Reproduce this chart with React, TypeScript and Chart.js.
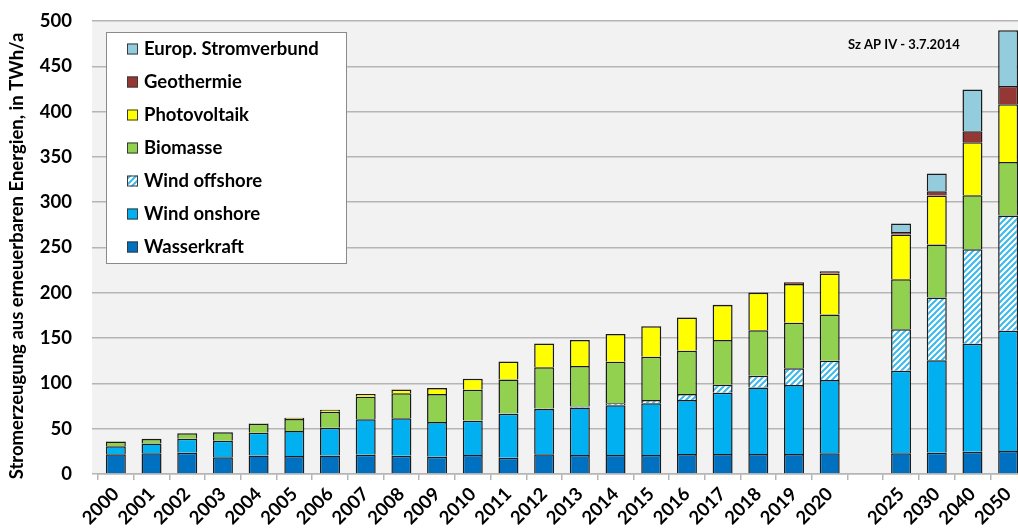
import React, { useEffect, useRef } from 'react';
import { Chart, registerables } from 'chart.js';
Chart.register(...registerables);

const categories = ['2000','2001','2002','2003','2004','2005','2006','2007','2008','2009','2010','2011','2012','2013','2014','2015','2016','2017','2018','2019','2020','','2025','2030','2040','2050'];
const wasserkraft = [21.7,22.8,23.5,18.4,20.5,19.9,20.3,21.3,20.2,19.1,21,18,21.7,21,21,21,22,22,22,22,22.8,null,22.8,23.5,24.5,25.5];
const windOnshore = [8.8,11,15.5,18.3,25.1,27.5,30.7,39,41.2,38.3,37.8,48.5,50,52.5,54.8,57,59.6,67.7,73.6,76.2,80.9,null,91.2,102,119.2,132.5];
const windOffshore = [0,0,0,0,0,0,0,0,0,0,0.2,0.6,0.7,0.9,2.2,3.6,6.6,8.8,12.8,18.4,21.3,null,45.9,69.4,104.5,127.4];
const biomasse = [5.5,4.8,6,9.3,9.9,13.3,17.8,25,27.6,30.8,34,37.2,45.3,44.7,45.9,47.8,47.8,49.3,50.4,50.3,51.1,null,55.1,58.4,59.5,59.1];
const photovoltaik = [0.1,0.2,0.3,0.3,0.6,1.3,2.2,3.1,4.4,6.6,12,20,26.4,28.7,30.5,33.8,36.8,38.6,41.2,42.7,45.2,null,49.3,54.1,58.5,63.6];
const geothermie = [0,0,0,0,0,0,0,0,0,0,0,0,0,0,0.1,0.1,0.2,0.3,0.5,2,2.6,null,2.9,4.7,12.1,20.2];
const europStromverbund = [0,0,0,0,0,0,0,0,0,0,0,0,0,0,0,0,0,0,0,0,0,null,9.3,19.5,46,61.4];

const seriesLabels = ['Wasserkraft','Wind onshore','Wind offshore','Biomasse','Photovoltaik','Geothermie','Europ. Stromverbund'];
const seriesColors = ['#0070c0','#00b0f0','HATCH','#92d050','#ffff00','#953735','#93cddd'];
const yTitle = 'Stromerzeugung aus erneuerbaren Energien, in TWh/a';
const noteText = 'Sz AP IV - 3.7.2014';

const FONT = 'Lato, "Open Sans", sans-serif';
const CW = 1040;
const CH = 529;

function makeHatch(): CanvasPattern | string {
  const c = document.createElement('canvas');
  const s = 6;
  c.width = s; c.height = s;
  const ctx = c.getContext('2d');
  if (!ctx) return '#00b0f0';
  ctx.fillStyle = '#ffffff';
  ctx.fillRect(0, 0, s, s);
  ctx.strokeStyle = '#3db8ec';
  ctx.lineWidth = 2;
  ctx.beginPath();
  for (const k of [0, s, 2 * s]) {
    ctx.moveTo(k + 2, -2);
    ctx.lineTo(-2, k + 2);
  }
  ctx.stroke();
  const p = ctx.createPattern(c, 'repeat');
  return p || '#00b0f0';
}

const bgPlugin = {
  id: 'plotBg',
  beforeDraw(chart: any) {
    const { ctx, chartArea } = chart;
    ctx.save();
    ctx.fillStyle = '#f2f2f2';
    ctx.fillRect(chartArea.left - 6, chartArea.top, chartArea.right - chartArea.left + 6, chartArea.bottom - chartArea.top);
    ctx.restore();
  },
};

const overlayPlugin = {
  id: 'overlay',
  afterDraw(chart: any) {
    const ctx = chart.ctx as CanvasRenderingContext2D;
    ctx.save();
    ctx.fillStyle = '#ffffff';
    ctx.fillRect(106, 32, 241, 232);
    ctx.strokeStyle = '#8a8a8a';
    ctx.lineWidth = 1;
    ctx.strokeRect(106.5, 32.5, 240, 231);
    const ds = chart.data.datasets.slice().reverse();
    ds.forEach((d: any, i: number) => {
      const cy = 48.5 + i * 33;
      ctx.fillStyle = d.backgroundColor;
      ctx.fillRect(127, cy - 5, 11, 11);
      ctx.strokeStyle = '#3a3a3a';
      ctx.lineWidth = 1;
      ctx.strokeRect(127.5, cy - 4.5, 10, 10);
      ctx.fillStyle = '#000000';
      ctx.font = `bold 18.5px ${FONT}`;
      ctx.textBaseline = 'middle';
      ctx.textAlign = 'left';
      ctx.fillText(d.label, 144, cy + 1);
    });
    ctx.font = `bold 13px ${FONT}`;
    ctx.fillStyle = '#000000';
    ctx.textAlign = 'left';
    ctx.textBaseline = 'middle';
    ctx.fillText(noteText, 848, 45);
    ctx.translate(17, 256);
    ctx.rotate(-Math.PI / 2);
    ctx.textAlign = 'center';
    ctx.font = `bold 18.5px ${FONT}`;
    ctx.fillText(yTitle, 0, 0);
    ctx.restore();
  },
};

export default function App() {
  const ref = useRef<HTMLCanvasElement | null>(null);
  useEffect(() => {
    if (!ref.current) return;
    const hatch = makeHatch();
    const values = [wasserkraft, windOnshore, windOffshore, biomasse, photovoltaik, geothermie, europStromverbund];
    const datasets = seriesLabels.map((label, i) => ({
      label,
      data: values[i],
      backgroundColor: seriesColors[i] === 'HATCH' ? hatch : seriesColors[i],
      borderColor: '#1a1a1a',
      borderWidth: 1.5,
      categoryPercentage: 1,
      barPercentage: 0.56,
    }));
    const chart = new Chart(ref.current, {
      type: 'bar',
      data: { labels: categories, datasets: datasets as any },
      options: {
        responsive: false,
        animation: false,
        layout: { padding: { left: 0, right: CW - 1026, top: 21, bottom: 0 } },
        plugins: { legend: { display: false }, tooltip: { enabled: false } },
        scales: {
          x: {
            stacked: true,
            offset: true,
            grid: { display: true, drawOnChartArea: false, drawTicks: true, tickLength: 6, offset: true, color: '#b5b5b5', lineWidth: 1.5 },
            border: { display: true, color: '#b5b5b5', width: 1.5 },
            ticks: { minRotation: 45, maxRotation: 45, autoSkip: false, color: '#000', padding: 3, font: { family: FONT, size: 18.5, weight: 'bold' } },
            afterFit: (s: any) => { s.height = CH - 474; s.paddingLeft = 0; s.paddingRight = 0; },
          },
          y: {
            stacked: true,
            min: 0,
            max: 500,
            ticks: { stepSize: 50, color: '#000', padding: 20, font: { family: FONT, size: 18.5, weight: 'bold' } },
            grid: { color: '#b5b5b5', lineWidth: 1.5, tickLength: 6, drawTicks: true },
            border: { display: false },
            afterFit: (s: any) => { s.width = 98; s.paddingTop = 0; s.paddingBottom = 0; },
          },
        },
      } as any,
      plugins: [bgPlugin, overlayPlugin],
    });
    return () => chart.destroy();
  }, []);
  return (
    <div style={{ position: 'fixed', left: 0, top: 0, width: 1018, height: 529, overflow: 'hidden', background: '#fff' }}>
      <canvas ref={ref} width={CW} height={CH} style={{ display: 'block', width: CW, height: CH }} />
    </div>
  );
}
